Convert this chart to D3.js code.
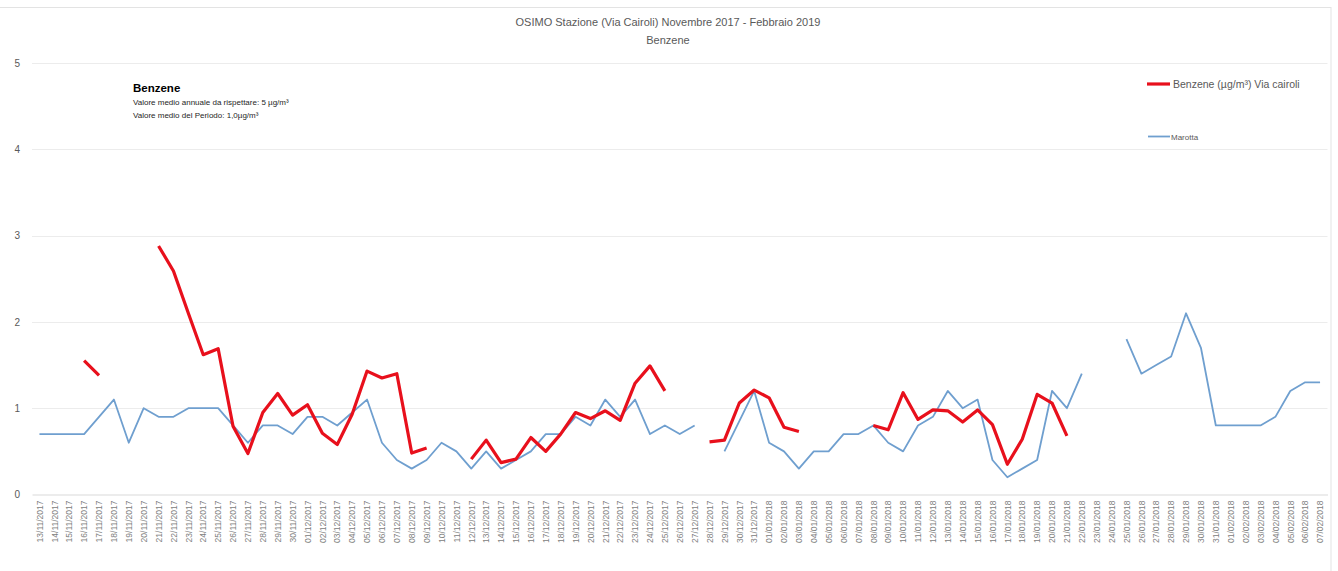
<!DOCTYPE html>
<html>
<head>
<meta charset="utf-8">
<script src="https://cdn.jsdelivr.net/npm/d3@7"></script>
<style>
  body { margin: 0; background: #fff; }
  svg { display: block; font-family: "Liberation Sans", Arial, sans-serif; }
</style>
</head>
<body>
<div id="chart"></div>
<script>
// daily labels, 13/11/2017 -> 07/02/2018
const dates = [
  "13/11/2017", "14/11/2017", "15/11/2017", "16/11/2017", "17/11/2017", "18/11/2017", "19/11/2017",
  "20/11/2017", "21/11/2017", "22/11/2017", "23/11/2017", "24/11/2017", "25/11/2017", "26/11/2017",
  "27/11/2017", "28/11/2017", "29/11/2017", "30/11/2017",
  "01/12/2017", "02/12/2017", "03/12/2017", "04/12/2017", "05/12/2017", "06/12/2017", "07/12/2017",
  "08/12/2017", "09/12/2017", "10/12/2017", "11/12/2017", "12/12/2017", "13/12/2017", "14/12/2017",
  "15/12/2017", "16/12/2017", "17/12/2017", "18/12/2017", "19/12/2017", "20/12/2017", "21/12/2017",
  "22/12/2017", "23/12/2017", "24/12/2017", "25/12/2017", "26/12/2017", "27/12/2017", "28/12/2017",
  "29/12/2017", "30/12/2017", "31/12/2017",
  "01/01/2018", "02/01/2018", "03/01/2018", "04/01/2018", "05/01/2018", "06/01/2018", "07/01/2018",
  "08/01/2018", "09/01/2018", "10/01/2018", "11/01/2018", "12/01/2018", "13/01/2018", "14/01/2018",
  "15/01/2018", "16/01/2018", "17/01/2018", "18/01/2018", "19/01/2018", "20/01/2018", "21/01/2018",
  "22/01/2018", "23/01/2018", "24/01/2018", "25/01/2018", "26/01/2018", "27/01/2018", "28/01/2018",
  "29/01/2018", "30/01/2018", "31/01/2018",
  "01/02/2018", "02/02/2018", "03/02/2018", "04/02/2018", "05/02/2018", "06/02/2018", "07/02/2018"
];

// Benzene Via Cairoli (null = no measure)
const cairoli = [
  null, null, null, 1.55, 1.38, null, null, null, 2.88, 2.59,
  2.1, 1.62, 1.69, 0.79, 0.475, 0.95, 1.17, 0.92, 1.04, 0.71,
  0.58, 0.93, 1.43, 1.35, 1.4, 0.48, 0.54, null, null, 0.41,
  0.63, 0.37, 0.41, 0.66, 0.5, 0.7, 0.95, 0.88, 0.97, 0.86,
  1.29, 1.49, 1.2, null, null, 0.61, 0.63, 1.06, 1.21, 1.12,
  0.78, 0.73, null, null, null, null, 0.8, 0.75, 1.18, 0.87,
  0.98, 0.97, 0.84, 0.98, 0.81, 0.35, 0.64, 1.16, 1.06, 0.68,
  null, null, null, null, null, null, null, null, null, null,
  null, null, null, null, null, null, null
];

// Marotta
const marotta = [
  0.7, 0.7, 0.7, 0.7, 0.9, 1.1, 0.6, 1.0, 0.9, 0.9,
  1.0, 1.0, 1.0, 0.8, 0.6, 0.8, 0.8, 0.7, 0.9, 0.9,
  0.8, 0.95, 1.1, 0.6, 0.4, 0.3, 0.4, 0.6, 0.5, 0.3,
  0.5, 0.3, 0.4, 0.5, 0.7, 0.7, 0.9, 0.8, 1.1, 0.9,
  1.1, 0.7, 0.8, 0.7, 0.8, null, 0.5, 0.85, 1.2, 0.6,
  0.5, 0.3, 0.5, 0.5, 0.7, 0.7, 0.8, 0.6, 0.5, 0.8,
  0.9, 1.2, 1.0, 1.1, 0.4, 0.2, 0.3, 0.4, 1.2, 1.0,
  1.4, null, null, 1.8, 1.4, 1.5, 1.6, 2.1, 1.7, 0.8,
  0.8, 0.8, 0.8, 0.9, 1.2, 1.3, 1.3
];

const yTicks = [0, 1, 2, 3, 4, 5];

const width = 1338;
const height = 571;

const svg = d3
  .select("#chart")
  .append("svg")
  .attr("width", width)
  .attr("height", height);

// chart frame
svg
  .append("rect")
  .attr("x", -2)
  .attr("y", 7.5)
  .attr("width", 1333)
  .attr("height", 600)
  .attr("fill", "none")
  .attr("stroke", "#e3e3e3");

const x = d3
  .scalePoint()
  .domain(dates)
  .range([32, 1327.5])
  .padding(0.5);

const y = d3
  .scaleLinear()
  .domain([0, 5])
  .range([494.5, 63]);

// gridlines
svg
  .append("g")
  .selectAll("line")
  .data(yTicks.filter(d => d > 0))
  .join("line")
  .attr("x1", 32)
  .attr("x2", 1327.5)
  .attr("y1", d => Math.round(y(d)) + 0.5)
  .attr("y2", d => Math.round(y(d)) + 0.5)
  .attr("stroke", "#ececec")
  .attr("stroke-width", 1);

// y axis (labels only)
const yAxis = svg
  .append("g")
  .attr("transform", "translate(32,0)")
  .call(d3.axisLeft(y).tickValues(yTicks).tickSize(0).tickPadding(12).tickFormat(d3.format("d")));
yAxis.select(".domain").remove();
yAxis
  .selectAll("text")
  .attr("fill", "#595959")
  .style("font-size", "10px");

// x axis
const xAxis = svg
  .append("g")
  .attr("transform", `translate(0,${y(0)})`)
  .call(d3.axisBottom(x).tickSize(0).tickPadding(0));
xAxis
  .select(".domain")
  .attr("stroke", "#d9d9d9");
xAxis
  .selectAll("text")
  .attr("fill", "#808080")
  .style("font-size", "8.5px")
  .attr("text-anchor", "end")
  .attr("dy", "0.32em")
  .attr("transform", "translate(0,6) rotate(-90)")
  .attr("x", 0)
  .attr("y", 0);

const line = series =>
  d3
    .line()
    .defined(d => d != null)
    .x((d, i) => x(dates[i]))
    .y(d => y(d))(series);

svg
  .append("path")
  .attr("d", line(marotta))
  .attr("fill", "none")
  .attr("stroke", "#6f9fcf")
  .attr("stroke-width", 1.8)
  .attr("stroke-linejoin", "round");

svg
  .append("path")
  .attr("d", line(cairoli))
  .attr("fill", "none")
  .attr("stroke", "#e8101c")
  .attr("stroke-width", 3.2)
  .attr("stroke-linejoin", "round");

// titles
svg
  .append("text")
  .attr("x", 668)
  .attr("y", 26)
  .attr("text-anchor", "middle")
  .attr("fill", "#595959")
  .style("font-size", "11px")
  .text("OSIMO Stazione (Via Cairoli) Novembre 2017 - Febbraio 2019");

svg
  .append("text")
  .attr("x", 668)
  .attr("y", 44)
  .attr("text-anchor", "middle")
  .attr("fill", "#595959")
  .style("font-size", "11px")
  .text("Benzene");

// note box
const note = svg.append("g").attr("transform", "translate(133,0)");
note
  .append("text")
  .attr("y", 92)
  .attr("fill", "#000")
  .style("font-size", "11.5px")
  .style("font-weight", "bold")
  .text("Benzene");
note
  .append("text")
  .attr("y", 105)
  .attr("fill", "#262626")
  .style("font-size", "8px")
  .text("Valore medio annuale da rispettare: 5 µg/m³");
note
  .append("text")
  .attr("y", 118)
  .attr("fill", "#262626")
  .style("font-size", "8px")
  .text("Valore medio del Periodo: 1,0µg/m³");

// legend
const legend = svg.append("g");
legend
  .append("line")
  .attr("x1", 1147)
  .attr("x2", 1170)
  .attr("y1", 84)
  .attr("y2", 84)
  .attr("stroke", "#e8101c")
  .attr("stroke-width", 3.2);
legend
  .append("text")
  .attr("x", 1173)
  .attr("y", 88)
  .attr("fill", "#595959")
  .style("font-size", "10.5px")
  .text("Benzene (µg/m³) Via cairoli");
legend
  .append("line")
  .attr("x1", 1148)
  .attr("x2", 1170)
  .attr("y1", 136.5)
  .attr("y2", 136.5)
  .attr("stroke", "#6f9fcf")
  .attr("stroke-width", 1.8);
legend
  .append("text")
  .attr("x", 1171)
  .attr("y", 139.5)
  .attr("fill", "#595959")
  .style("font-size", "8px")
  .text("Marotta");
</script>
</body>
</html>
